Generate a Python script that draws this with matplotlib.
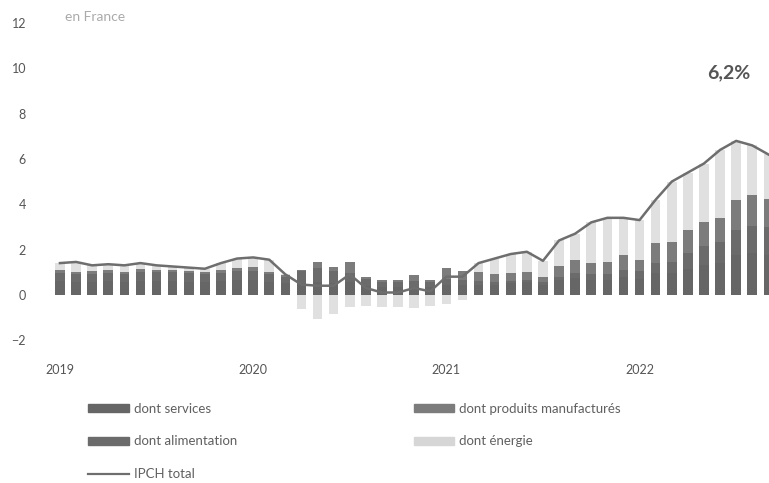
import numpy as np
import matplotlib
matplotlib.use("Agg")
import matplotlib.pyplot as plt
from matplotlib.patches import Patch
from matplotlib.lines import Line2D

plt.rcParams["font.family"] = ["Lato", "DejaVu Sans"]

# mensuel, janvier 2019 -> septembre 2022
years = ["2019", "2020", "2021", "2022"]

services = [0.60, 0.55, 0.55, 0.60, 0.55, 0.60, 0.60, 0.60, 0.55, 0.55, 0.60, 0.65,
            0.65, 0.55, 0.50, 0.50, 0.55, 0.50, 0.55, 0.40, 0.35, 0.35, 0.35, 0.35,
            0.45, 0.45, 0.45, 0.45, 0.50, 0.55, 0.45, 0.65, 0.75, 0.65, 0.65, 0.80,
            0.70, 0.95, 0.95, 1.15, 1.30, 1.40, 1.75, 1.85, 1.75]
alimentation = [0.35, 0.35, 0.35, 0.35, 0.35, 0.40, 0.40, 0.40, 0.40, 0.35, 0.35, 0.40,
                0.40, 0.35, 0.30, 0.55, 0.65, 0.55, 0.40, 0.30, 0.23, 0.20, 0.25, 0.20,
                0.25, 0.20, 0.15, 0.10, 0.10, 0.10, 0.10, 0.15, 0.20, 0.25, 0.25, 0.30,
                0.35, 0.45, 0.50, 0.70, 0.85, 0.95, 1.10, 1.20, 1.25]
manufactures = [0.15, 0.10, 0.15, 0.15, 0.10, 0.15, 0.10, 0.10, 0.10, 0.10, 0.15, 0.15,
                0.18, 0.10, 0.08, 0.05, 0.25, 0.18, 0.50, 0.10, 0.08, 0.11, 0.28, 0.11,
                0.50, 0.40, 0.40, 0.35, 0.37, 0.35, 0.25, 0.48, 0.60, 0.50, 0.55, 0.65,
                0.50, 0.90, 0.90, 1.00, 1.05, 1.05, 1.35, 1.35, 1.25]
energie = [0.30, 0.45, 0.25, 0.25, 0.30, 0.25, 0.20, 0.15, 0.15, 0.15, 0.30, 0.40,
           0.42, 0.55, 0.02, -0.65, -1.05, -0.83, -0.55, -0.50, -0.56, -0.56, -0.58, -0.51,
           -0.40, -0.25, 0.40, 0.70, 0.83, 0.90, 0.70, 1.12, 1.15, 1.80, 1.95, 1.65,
           1.75, 1.90, 2.65, 2.55, 2.60, 3.00, 2.60, 2.20, 1.95]
ipch_total = [1.40, 1.45, 1.30, 1.35, 1.30, 1.40, 1.30, 1.25, 1.20, 1.15, 1.40, 1.60,
              1.65, 1.55, 0.90, 0.45, 0.40, 0.40, 0.90, 0.30, 0.10, 0.10, 0.30, 0.15,
              0.80, 0.80, 1.40, 1.60, 1.80, 1.90, 1.50, 2.40, 2.70, 3.20, 3.40, 3.40,
              3.30, 4.20, 5.00, 5.40, 5.80, 6.40, 6.80, 6.60, 6.20]

c_services = "#666666"
c_alim = "#6b6b6b"
c_manuf = "#7c7c7c"
c_energie = "#e0e0e0"
c_ligne = "#6e6e6e"

series = [
    (services, c_services),
    (alimentation, c_alim),
    (manufactures, c_manuf),
    (energie, c_energie),
]

x = np.arange(len(ipch_total))

fig = plt.figure(figsize=(7.69, 4.83), dpi=100)
ax = fig.add_axes([0.052, 0.296, 0.948, 0.656])

# empilement : positifs vers le haut, négatifs vers le bas
pos_bottom = np.zeros(len(x))
neg_bottom = np.zeros(len(x))
for vals, color in series:
    v = np.array(vals)
    pos = np.clip(v, 0, None)
    neg = np.clip(v, None, 0)
    ax.bar(x, pos, 0.6, bottom=pos_bottom, color=color, linewidth=0, zorder=2)
    ax.bar(x, neg, 0.6, bottom=neg_bottom, color=color, linewidth=0, zorder=2)
    pos_bottom += pos
    neg_bottom += neg

ax.plot(x, ipch_total, color=c_ligne, lw=1.8, zorder=3)

ax.set_xlim(-1.24, 44.04)
ax.set_ylim(-2, 12)
ax.set_yticks(range(-2, 13, 2))
ax.set_xticks([0, 12, 24, 36])
ax.set_xticklabels(years)
ax.tick_params(axis="both", length=0, labelsize=9, labelcolor="#555555")
ax.tick_params(axis="y", pad=10)
ax.tick_params(axis="x", pad=17)
for s in ax.spines.values():
    s.set_visible(False)

fig.text(65 / 769, 1 - 17 / 483, "en France", color="#aaaaaa", fontsize=10, va="center")
fig.text(750 / 769, 1 - 73 / 483, "6,2%", color="#555555", fontsize=14,
         fontweight="bold", ha="right", va="center")

handles = [
    Patch(color=c_services),
    Patch(color=c_alim),
    Line2D([0], [0], color=c_ligne, lw=1.6),
    Patch(color=c_manuf),
    Patch(color="#d6d6d6"),
]
labels = ["dont services", "dont alimentation", "IPCH total",
          "dont produits manufacturés", "dont énergie"]
fig.legend(handles, labels, ncol=2, loc="upper left",
           bbox_to_anchor=(88 / 769, 1 - 403 / 483), frameon=False,
           fontsize=9.5, handlelength=3.1, handleheight=0.55, handletextpad=0.35,
           labelspacing=1.55, columnspacing=13.4, labelcolor="#606060",
           borderaxespad=0, borderpad=0)

fig.savefig("out.png", dpi=100)
